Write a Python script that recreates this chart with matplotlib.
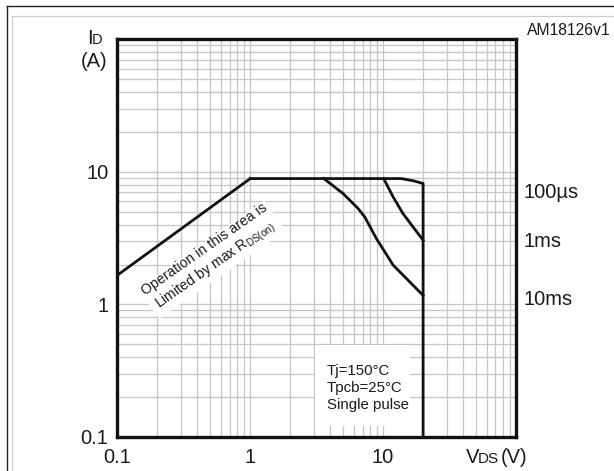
import matplotlib
matplotlib.use("Agg")
import matplotlib.pyplot as plt
from matplotlib.lines import Line2D
from matplotlib.patches import Rectangle
from matplotlib.ticker import LogLocator, NullFormatter
import matplotlib.transforms as mtransforms

plt.rcParams['font.family'] = ['Liberation Sans', 'DejaVu Sans']
plt.rcParams['mathtext.fontset'] = 'custom'
plt.rcParams['mathtext.rm'] = 'Liberation Sans'
plt.rcParams['mathtext.it'] = 'Liberation Sans:italic'

# ---- data ----
rds_vds = [0.1, 1.0]
rds_id = [1.66, 8.9]

us100_vds = [1.0, 13.7, 17.0, 20.0, 20.0]
us100_id = [8.9, 8.9, 8.55, 8.17, 0.1]

ms1_vds = [10.1, 11.9, 14.1, 20.0]
ms1_id = [8.9, 6.47, 4.85, 3.05]

ms10_vds = [3.58, 5.0, 6.49, 7.28, 8.9, 11.9, 20.0]
ms10_id = [8.9, 6.86, 5.29, 4.57, 3.14, 1.98, 1.17]

curve_labels = ["100µs", "1ms", "10ms"]
curve_label_y = [6.3, 2.72, 0.988]

x_ticks = [0.1, 1, 10]
x_ticklabels = ["0.1", "1", "10"]
y_ticks = [0.1, 1, 10]
y_ticklabels = ["0.1", "1", "10"]

W, H = 614, 471
fig = plt.figure(figsize=(W / 100, H / 100), dpi=100)
L, R, T, B = 117.3, 516.0, 39.3, 437.0
ax = fig.add_axes([L / W, (H - B) / H, (R - L) / W, (B - T) / H])
ax.set_xscale('log')
ax.set_yscale('log')
ax.set_xlim(0.1, 100)
ax.set_ylim(0.1, 100)

ax.set_axisbelow(True)
ax.xaxis.set_minor_locator(LogLocator(base=10, subs=range(2, 10)))
ax.yaxis.set_minor_locator(LogLocator(base=10, subs=range(2, 10)))
ax.xaxis.set_minor_formatter(NullFormatter())
ax.yaxis.set_minor_formatter(NullFormatter())
ax.grid(which='both', color='#c6c6c6', lw=0.9)

ax.set_xticks(x_ticks)
ax.set_xticklabels(x_ticklabels)
ax.set_yticks(y_ticks)
ax.set_yticklabels(y_ticklabels)
ax.tick_params(which='both', length=0, labelsize=14.5, colors='#1a1a1a')
ax.tick_params(axis='x', pad=8)
ax.tick_params(axis='y', pad=6.5)

for s in ax.spines.values():
    s.set_linewidth(2.4)
    s.set_color('#111111')

lc = '#111111'
lw = 2.0
ax.plot(rds_vds, rds_id, color=lc, lw=lw, solid_joinstyle='miter', zorder=3)
ax.plot(us100_vds, us100_id, color=lc, lw=lw, zorder=3)
ax.plot(ms1_vds, ms1_id, color=lc, lw=lw, zorder=3)
ax.plot(ms10_vds, ms10_id, color=lc, lw=lw, zorder=3)

# white box behind conditions text
ax.add_patch(Rectangle((0.496, 0.0276), 0.2385, 0.203, transform=ax.transAxes,
                       facecolor='white', edgecolor='none', zorder=1.5))
ax.text(3.77, 0.234, "Tj=150°C\nTpcb=25°C\nSingle pulse", ha='left', va='center',
        fontsize=10.8, linespacing=1.3, color='#1a1a1a', zorder=4)

# rotated annotation
ax.text(0.506, 2.23, "Operation in this area is\nLimited by max R$_{\\mathrm{DS(on)}}$",
        rotation=35, rotation_mode='anchor', ha='center', va='center',
        fontsize=10.2, linespacing=1.2, color='#1a1a1a', zorder=4,
        bbox=dict(facecolor='white', edgecolor='none', pad=1.5))

# right-hand curve labels
trans = mtransforms.blended_transform_factory(ax.transAxes, ax.transData)
for lab, yy in zip(curve_labels, curve_label_y):
    ax.text(1.0176, yy, lab, transform=trans, ha='left', va='baseline',
            fontsize=14.5, color='#1a1a1a', clip_on=False)

# axis labels
def ftext(x, y, s, **kw):
    fig.text(x / W, 1 - y / H, s, **kw)

ftext(87.3, 43.5, "I", ha='left', va='baseline', fontsize=14.5, color='#1a1a1a')
ftext(91.5, 43.5, "D", ha='left', va='baseline', fontsize=10.5, color='#1a1a1a')
ftext(94.0, 66.7, "(A)", ha='center', va='baseline', fontsize=14.5, color='#1a1a1a')

ftext(465.7, 462.7, "V", ha='left', va='baseline', fontsize=14.5, color='#1a1a1a')
ftext(478.0, 462.7, "DS", ha='left', va='baseline', fontsize=11.0, color='#1a1a1a')
ftext(501.0, 462.7, "(V)", ha='left', va='baseline', fontsize=14.5, color='#1a1a1a')

ftext(611.0, 35.0, "AM18126v1", ha='right', va='baseline', fontsize=11.3, color='#1a1a1a')

# outer frame lines (cropped)
def fline(xs, ys, **kw):
    fig.add_artist(Line2D([x / W for x in xs], [1 - y / H for y in ys],
                          transform=fig.transFigure, **kw))

fline([7, 7], [6, H + 5], color='#222222', lw=1.0)
fline([7, W + 5], [6, 6], color='#222222', lw=1.0)
fline([12, 12], [16, H + 5], color='#cccccc', lw=0.9)
fline([12, W + 5], [16, 16], color='#cccccc', lw=0.9)

fig.savefig("out.png", dpi=100, facecolor='white')
